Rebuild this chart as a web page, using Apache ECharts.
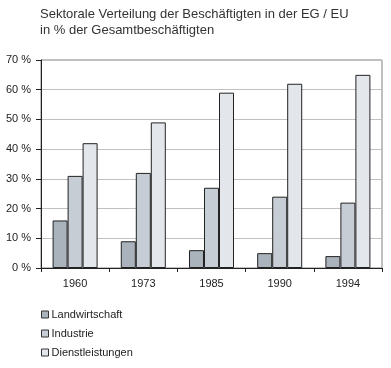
<!DOCTYPE html>
<html><head><meta charset="utf-8">
<script src="https://cdn.jsdelivr.net/npm/echarts@6/dist/echarts.min.js"></script>
<style>html,body{margin:0;padding:0;background:#fff}#c{width:391px;height:368px}</style>
</head><body><div id="c"></div>
<script>
var categories = ['1960','1973','1985','1990','1994'];
var landwirtschaft = [16, 9, 6, 5, 4];
var industrie = [31, 32, 27, 24, 22];
var dienstleistungen = [42, 49, 59, 62, 65];
var seriesNames = ['Landwirtschaft','Industrie','Dienstleistungen'];
var colors = ['#aab3bc','#c7cdd4','#e3e7ec'];
var FONT = '"Liberation Sans", Arial, sans-serif';
var chart = echarts.init(document.getElementById('c'), null, {renderer:'canvas'});
function mk(name, data, color){
  return {name:name, type:'bar', data:data, barGap:'0%', barCategoryGap:'34%',
    itemStyle:{color:color, borderColor:'#222', borderWidth:1}};
}
chart.setOption({
  animation:false,
  textStyle:{fontFamily:FONT},
  title:{text:'Sektorale Verteilung der Beschäftigten in der EG / EU\nin % der Gesamtbeschäftigten',
    left:40, top:6, padding:0,
    textStyle:{fontFamily:FONT, fontSize:13, fontWeight:'normal', color:'#333', lineHeight:16}},
  legend:{orient:'vertical', left:41, top:309, padding:0, itemWidth:7, itemHeight:7, itemGap:8,
    icon:'rect',
    data:seriesNames,
    textStyle:{fontFamily:FONT, fontSize:11, color:'#222', padding:[0,0,0,-2]},
    itemStyle:{borderColor:'#333', borderWidth:1}},
  grid:{left:41, right:9, top:60, bottom:100, show:true, borderColor:'#808080', borderWidth:1},
  xAxis:{type:'category', data:categories,
    axisLine:{lineStyle:{color:'#222'}},
    axisTick:{show:true, length:4, alignWithLabel:false, lineStyle:{color:'#222'}},
    axisLabel:{color:'#222', fontSize:11, fontFamily:FONT, margin:10}},
  yAxis:{type:'value', min:0, max:70, interval:10,
    axisLine:{show:true, lineStyle:{color:'#222'}},
    axisTick:{show:true, length:5, lineStyle:{color:'#222'}},
    axisLabel:{formatter:'{value} %', color:'#222', fontSize:11, fontFamily:FONT, margin:10},
    splitLine:{lineStyle:{color:'#c0c0c0'}}},
  series:[mk(seriesNames[0], landwirtschaft, colors[0]), mk(seriesNames[1], industrie, colors[1]), mk(seriesNames[2], dienstleistungen, colors[2])]
});
</script></body></html>
